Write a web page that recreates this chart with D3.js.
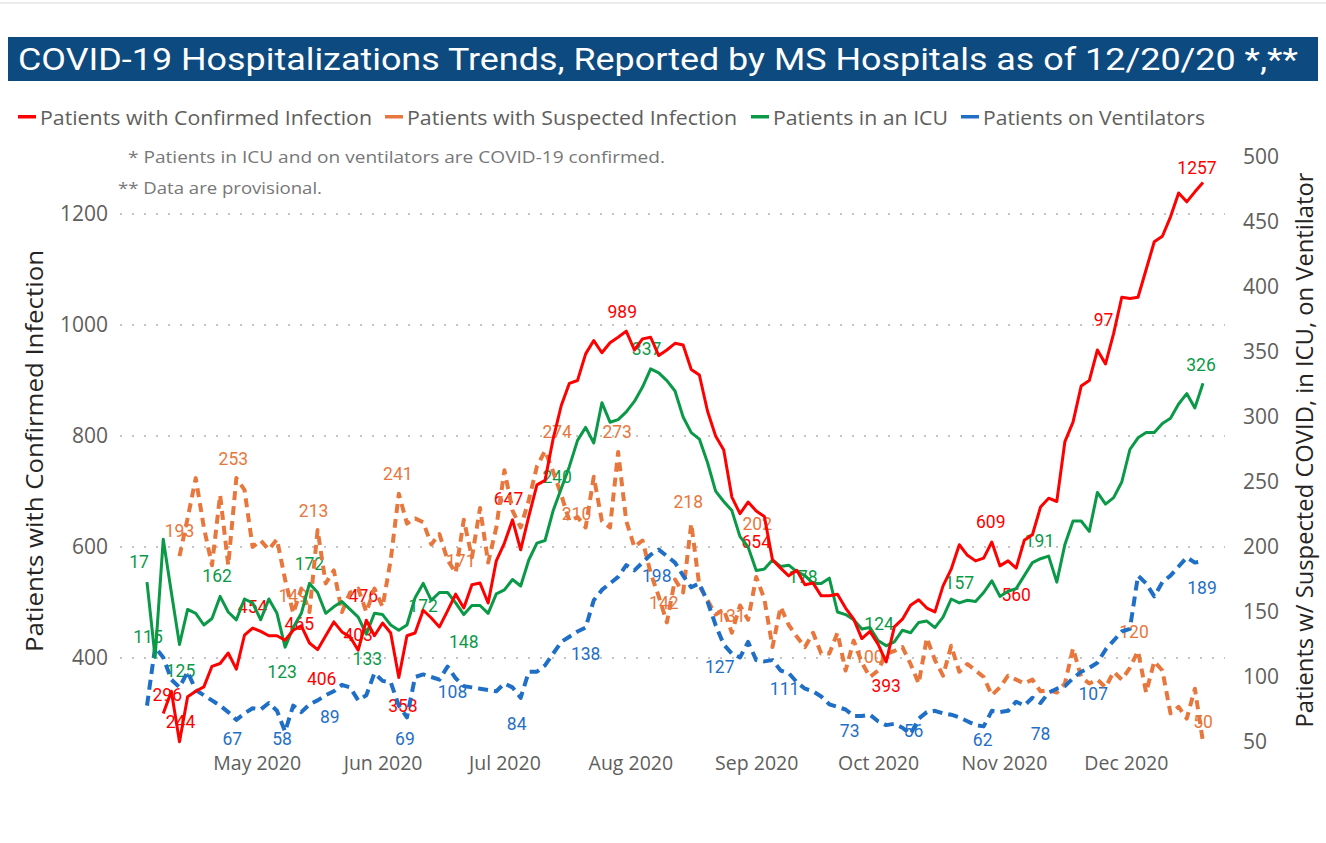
<!DOCTYPE html>
<html>
<head>
<meta charset="utf-8">
<script src="https://cdn.jsdelivr.net/npm/d3@7"></script>
<style>
body{margin:0;background:#fff;}
</style>
</head>
<body>
<div id="grafica"></div>
<script>
// Fechas: un punto cada 2 dias, del 4 de abril al 20 de diciembre de 2020
var fechas = d3.timeDay.range(new Date(2020,3,4), new Date(2020,11,21), 2)

// Pacientes confirmados (eje izquierdo)
var confirmados = [null,null,300,340,249,330,340,348,385,390,
	409,380,441,454,448,440,440,432,450,458,
	427,415,440,465,447,438,414,468,440,463,
	445,365,440,445,486,472,456,485,515,490,
	532,535,499,575,607,649,595,655,712,720,
	795,855,895,900,948,972,950,968,978,989,
	955,975,978,945,955,967,964,920,910,845,
	800,775,690,660,681,665,655,577,562,548,
	558,532,535,512,512,515,490,470,435,448,
	425,393,456,470,495,505,490,483,530,560,
	604,585,575,580,609,566,575,562,612,622,
	672,688,682,790,825,890,900,955,930,985,
	1050,1048,1050,1100,1150,1160,1195,1238,1222,1240,
	1257]

// Pacientes en UCI (eje derecho)
var uci = [173,115,206,165,125,152,149,140,145,162,
	150,144,160,157,144,160,149,123,138,149,
	172,165,149,154,158,152,146,133,149,148,
	140,136,140,161,172,159,165,165,157,148,
	155,155,149,164,167,175,170,190,203,205,
	228,245,262,282,292,280,311,296,298,304,
	312,323,337,334,328,320,300,288,283,265,
	243,235,228,208,200,182,183,190,185,186,
	181,178,172,172,176,150,148,144,137,138,
	128,124,127,136,134,142,143,138,146,160,
	157,159,158,165,174,162,166,168,178,188,
	191,193,173,202,220,220,212,242,233,238,
	250,275,284,288,288,295,299,310,318,307,
	326]

// Pacientes con ventilador (eje derecho)
var ventiladores = [78,123,115,98,92,104,90,86,82,78,
	73,67,72,76,75,80,74,58,78,73,
	79,82,86,89,94,92,82,86,103,97,
	96,78,69,100,102,100,98,108,99,93,
	92,91,90,89,95,92,84,104,104,109,
	118,127,131,135,138,159,167,172,177,186,
	182,188,194,198,193,188,178,169,172,158,
	140,125,118,115,127,113,112,113,105,103,
	96,91,89,85,79,77,75,70,70,71,
	66,63,64,61,56,68,73,74,72,71,
	69,66,63,62,74,73,74,81,78,84,
	80,88,91,93,99,104,107,111,121,128,
	135,137,178,172,162,173,178,185,192,188,
	189]

// Pacientes sospechosos (eje derecho)
var sospechosos = [null,null,null,null,193,222,253,215,186,240,
	186,253,244,200,205,198,206,175,149,168,
	150,213,172,182,150,165,168,150,168,154,
	190,241,218,222,219,202,210,190,180,221,
	192,230,188,215,259,228,215,236,262,274,
	258,240,220,223,215,254,220,215,273,220,
	200,205,180,162,142,175,165,218,170,159,
	148,152,134,155,144,177,160,123,154,140,
	131,123,134,118,118,134,105,128,111,100,
	105,118,120,123,110,95,130,113,101,124,
	104,110,105,100,86,92,101,98,95,98,
	89,90,88,95,122,100,95,98,92,104,
	98,107,120,88,112,105,72,77,68,91,
	50]

var ticksIzq = [400,600,800,1000,1200]
var ticksDer = [50,100,150,200,250,300,350,400,450,500]
var meses = d3.timeMonth.range(new Date(2020,4,1), new Date(2020,11,2))

// Etiquetas de datos: serie, indice, texto, valor, desplazamiento
var etiquetas = [
	["conf",2,"296",296,4,-15],["conf",4,"244",244,1,-17],["conf",13,"454",454,0,-15],
	["conf",19,"465",465,-2,8],["conf",22,"406",406,-4,30],["conf",27,"476",476,-3,-14],
	["conf",26,"403",403,0,-15],["conf",32,"358",358,-4,31],["conf",45,"647",647,-4,-16],
	["conf",59,"989",989,-4,-13],["conf",75,"654",654,0,31],["conf",91,"393",393,0,30],
	["conf",104,"609",609,-1,-14],["conf",107,"560",560,0,32],["conf",118,"97",970,-2,-16],
	["conf",130,"1257",1257,-6,-8],
	["uci",0,"17",173,-8,-14],["uci",0,"115",115,1,-15],["uci",4,"125",125,1,32],
	["uci",9,"162",162,-3,-14],["uci",17,"123",123,-3,31],["uci",20,"172",172,0,-13],
	["uci",27,"133",133,1,31],["uci",34,"172",172,0,29],["uci",39,"148",148,0,33],
	["uci",50,"240",240,4,-12],["uci",62,"337",337,-4,-14],["uci",81,"178",178,-2,7],
	["uci",90,"124",124,1,-16],["uci",100,"157",157,0,-14],["uci",110,"191",191,-1,-12],
	["uci",130,"326",326,-2,-12],
	["sosp",4,"193",193,0,-19],["sosp",11,"253",253,-3,-13],["sosp",18,"149",149,0,-11],
	["sosp",21,"213",213,-4,-13],["sosp",31,"241",241,-1,-14],["sosp",39,"171",171,-3,-18],
	["sosp",50,"274",274,4,-13],["sosp",53,"210",210,-1,-14],["sosp",58,"273",273,-1,-14],
	["sosp",64,"142",142,-3,-13],["sosp",67,"218",218,-3,-16],["sosp",72,"131",131,-1,-15],
	["sosp",75,"202",202,1,-14],["sosp",89,"100",100,-1,-14],["sosp",122,"120",120,-4,-13],
	["sosp",130,"50",50,0,-14],
	["vent",11,"67",67,-4,25],["vent",17,"58",58,-3,13],["vent",23,"89",89,-4,32],
	["vent",32,"69",69,-2,28],["vent",37,"108",108,5,31],["vent",46,"84",84,-4,32],
	["vent",54,"138",138,0,32],["vent",63,"198",198,-2,32],["vent",71,"127",127,-4,31],
	["vent",78,"111",111,4,32],["vent",87,"73",73,-4,25],["vent",94,"56",56,3,3],
	["vent",103,"62",62,-1,20],["vent",110,"78",78,0,34],["vent",116,"107",107,4,32],
	["vent",130,"189",189,-1,33]
]

grafica()

function grafica(){
	var svg = d3.select("#grafica").append("svg")
		.attr("width",1326).attr("height",843)
		.style("font-family","'Open Sans', sans-serif")

	// linea gris superior
	svg.append("rect").attr("x",0).attr("y",2).attr("width",1326).attr("height",2).style("fill","#ececec")

	// Titulo
	svg.append("rect").attr("x",8).attr("y",37).attr("width",1310).attr("height",44).style("fill","#0c4a80")
	svg.append("text").attr("x",18).attr("y",70)
		.attr("textLength",1280).attr("lengthAdjust","spacingAndGlyphs")
		.style("font-family","Roboto, sans-serif").style("font-size","31px").style("fill","#ffffff")
		.text("COVID-19 Hospitalizations Trends, Reported by MS Hospitals as of 12/20/20 *,**")

	// Escalas
	var escalaX = d3.scaleTime().domain([fechas[0], fechas[fechas.length-1]]).range([147,1203])
	var escalaIzq = d3.scaleLinear().domain([248.6,1302.8]).range([742,157])
	var escalaDer = d3.scaleLinear().domain([50,500]).range([742,157])

	var series = [
		{id:"sosp", nombre:"Patients with Suspected Infection", datos:sospechosos, escala:escalaDer, color:"#e8773d", dash:"9,6", ancho:4},
		{id:"vent", nombre:"Patients on Ventilators", datos:ventiladores, escala:escalaDer, color:"#1f6fc6", dash:"10,6", ancho:4},
		{id:"uci", nombre:"Patients in an ICU", datos:uci, escala:escalaDer, color:"#0a9a47", dash:null, ancho:3},
		{id:"conf", nombre:"Patients with Confirmed Infection", datos:confirmados, escala:escalaIzq, color:"#ff0000", dash:null, ancho:3}
	]
	var porId = {}
	series.forEach(function(s){ porId[s.id] = s })

	// Leyenda: serie, x, ancho del texto
	var leyenda = [["conf",18,332],["sosp",385,330],["uci",751,175],["vent",961,222]]
	leyenda.forEach(function(l){
		var s = porId[l[0]]
		svg.append("rect").attr("x",l[1]).attr("y",115).attr("width",18).attr("height",3.5).style("fill",s.color)
		svg.append("text").attr("x",l[1]+22).attr("y",125)
			.attr("textLength",l[2]).attr("lengthAdjust","spacingAndGlyphs")
			.style("font-size","20.5px").style("fill","#605e5c").text(s.nombre)
	})

	// Notas
	svg.append("text").attr("x",128).attr("y",163)
		.attr("textLength",537).attr("lengthAdjust","spacingAndGlyphs")
		.style("font-size","17px").style("fill","#777")
		.text("* Patients in ICU and on ventilators are COVID-19 confirmed.")
	svg.append("text").attr("x",118).attr("y",194)
		.attr("textLength",204).attr("lengthAdjust","spacingAndGlyphs")
		.style("font-size","17px").style("fill","#777")
		.text("** Data are provisional.")

	// Lineas de guia punteadas
	svg.selectAll(".guia").data(ticksIzq).enter().append("line")
		.attr("x1",120).attr("x2",1225)
		.attr("y1",function(d){return escalaIzq(d)}).attr("y2",function(d){return escalaIzq(d)})
		.style("stroke","#c4c4c4").style("stroke-width",2).style("stroke-dasharray","2,10")

	// Ejes
	var ejeIzq = svg.append("g").attr("transform","translate(112,0)")
		.call(d3.axisLeft(escalaIzq).tickValues(ticksIzq).tickFormat(d3.format("d")).tickSize(0).tickPadding(4))
	var ejeDer = svg.append("g").attr("transform","translate(1239,0)")
		.call(d3.axisRight(escalaDer).tickValues(ticksDer).tickSize(0).tickPadding(4))
	var ejeX = svg.append("g").attr("transform","translate(0,751)")
		.call(d3.axisBottom(escalaX).tickValues(meses).tickFormat(d3.timeFormat("%b %Y")).tickSize(0).tickPadding(5))
	;[ejeIzq,ejeDer,ejeX].forEach(function(e){
		e.select(".domain").remove()
		e.selectAll("text").style("font-family","'Open Sans', sans-serif").style("fill","#605e5c")
	})
	ejeIzq.selectAll("text").style("font-size","21px")
	ejeDer.selectAll("text").style("font-size","21px")
	ejeX.selectAll("text").style("font-size","19.5px")

	// Titulos de ejes
	svg.append("text").attr("transform","translate(43,451) rotate(-90)")
		.attr("text-anchor","middle").attr("textLength",402).attr("lengthAdjust","spacingAndGlyphs")
		.style("font-size","24px").style("fill","#252423")
		.text("Patients with Confirmed Infection")
	svg.append("text").attr("transform","translate(1313,450) rotate(-90)")
		.attr("text-anchor","middle").attr("textLength",555).attr("lengthAdjust","spacingAndGlyphs")
		.style("font-size","23px").style("fill","#252423")
		.text("Patients w/ Suspected COVID, in ICU, on Ventilator")

	// Etiquetas de datos (debajo de las lineas)
	svg.selectAll(".etiqueta").data(etiquetas).enter().append("text")
		.attr("x",function(d){return escalaX(fechas[d[1]])+d[4]})
		.attr("y",function(d){return porId[d[0]].escala(d[3])+d[5]})
		.attr("text-anchor","middle")
		.style("font-family","Roboto, sans-serif").style("font-size","17.5px")
		.style("fill",function(d){return porId[d[0]].color})
		.text(function(d){return d[2]})

	// Lineas
	series.forEach(function(s){
		var linea = d3.line()
			.defined(function(d){return d != null})
			.x(function(d,i){return escalaX(fechas[i])})
			.y(function(d){return s.escala(d)})
		svg.append("path").datum(s.datos)
			.attr("d",linea)
			.style("fill","none")
			.style("stroke",s.color)
			.style("stroke-width",s.ancho)
			.style("stroke-linejoin","round")
			.style("stroke-dasharray",s.dash)
	})
}
</script>
</body>
</html>
